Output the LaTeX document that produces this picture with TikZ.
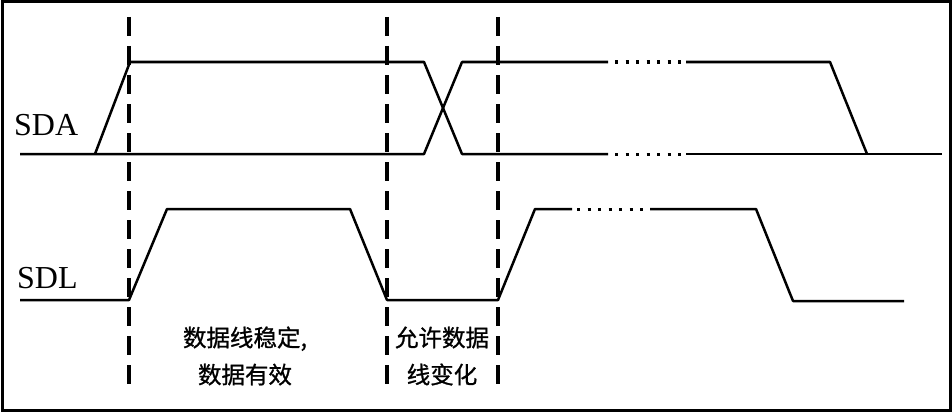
\documentclass[tikz,border=0pt]{standalone}
\usepackage{fontspec}
\setmainfont{Liberation Serif}
\newfontfamily\cjk[FakeBold=1]{Noto Sans CJK SC}
\usetikzlibrary{positioning}

\begin{document}
\begin{tikzpicture}[x=1pt, y=-1pt,
    sig/.style={line width=2.5pt, line join=round},
    guide/.style={line width=3.5pt, dash pattern=on 19pt off 10pt},
    dotted gap/.style={line width=3pt, dash pattern=on 3pt off 7.5pt},
    lbl/.style={font=\fontsize{32}{32}\selectfont, inner sep=0pt, anchor=base west},
    note/.style={font=\cjk\fontsize{23.5}{37}\selectfont, align=center, inner sep=0pt}
]
    \useasboundingbox (0,0) rectangle (952,412);
    \draw[line width=3pt] (2,2) rectangle (950,410);

    % SDA
    \node[lbl] (sda) at (14,135) {SDA};
    \draw[sig] (20,154) -- (424,154) -- (462,62) -- (608,62);
    \draw[sig] (95,154) -- (130,62) -- (424,62) -- (462,154) -- (608,154);
    \draw[dotted gap] (615,62) -- (682,62);
    \draw[dotted gap] (615,154) -- (682,154);
    \draw[sig] (686,62) -- (830,62) -- (867,154);
    \draw[sig] (686,154) -- (942,154);

    % SDL
    \node[lbl] (sdl) at (17,288) {SDL};
    \draw[sig] (20,300) -- (129,300) -- (167,209) -- (350,209) -- (387,300)
        -- (498,300) -- (535,209) -- (572,209);
    \draw[dotted gap] (577,209) -- (645,209);
    \draw[sig] (650,209) -- (756,209) -- (793,301) -- (904,301);

    % guides
    \draw[guide] (129,17) -- (129,386);
    \draw[guide] (387,17) -- (387,386);
    \draw[guide] (498,17) -- (498,386);

    \node[note] (stable) at (245,356) {数据线稳定,\\数据有效};
    \node[note] (change) at (442,356) {允许数据\\线变化};
\end{tikzpicture}
\end{document}
